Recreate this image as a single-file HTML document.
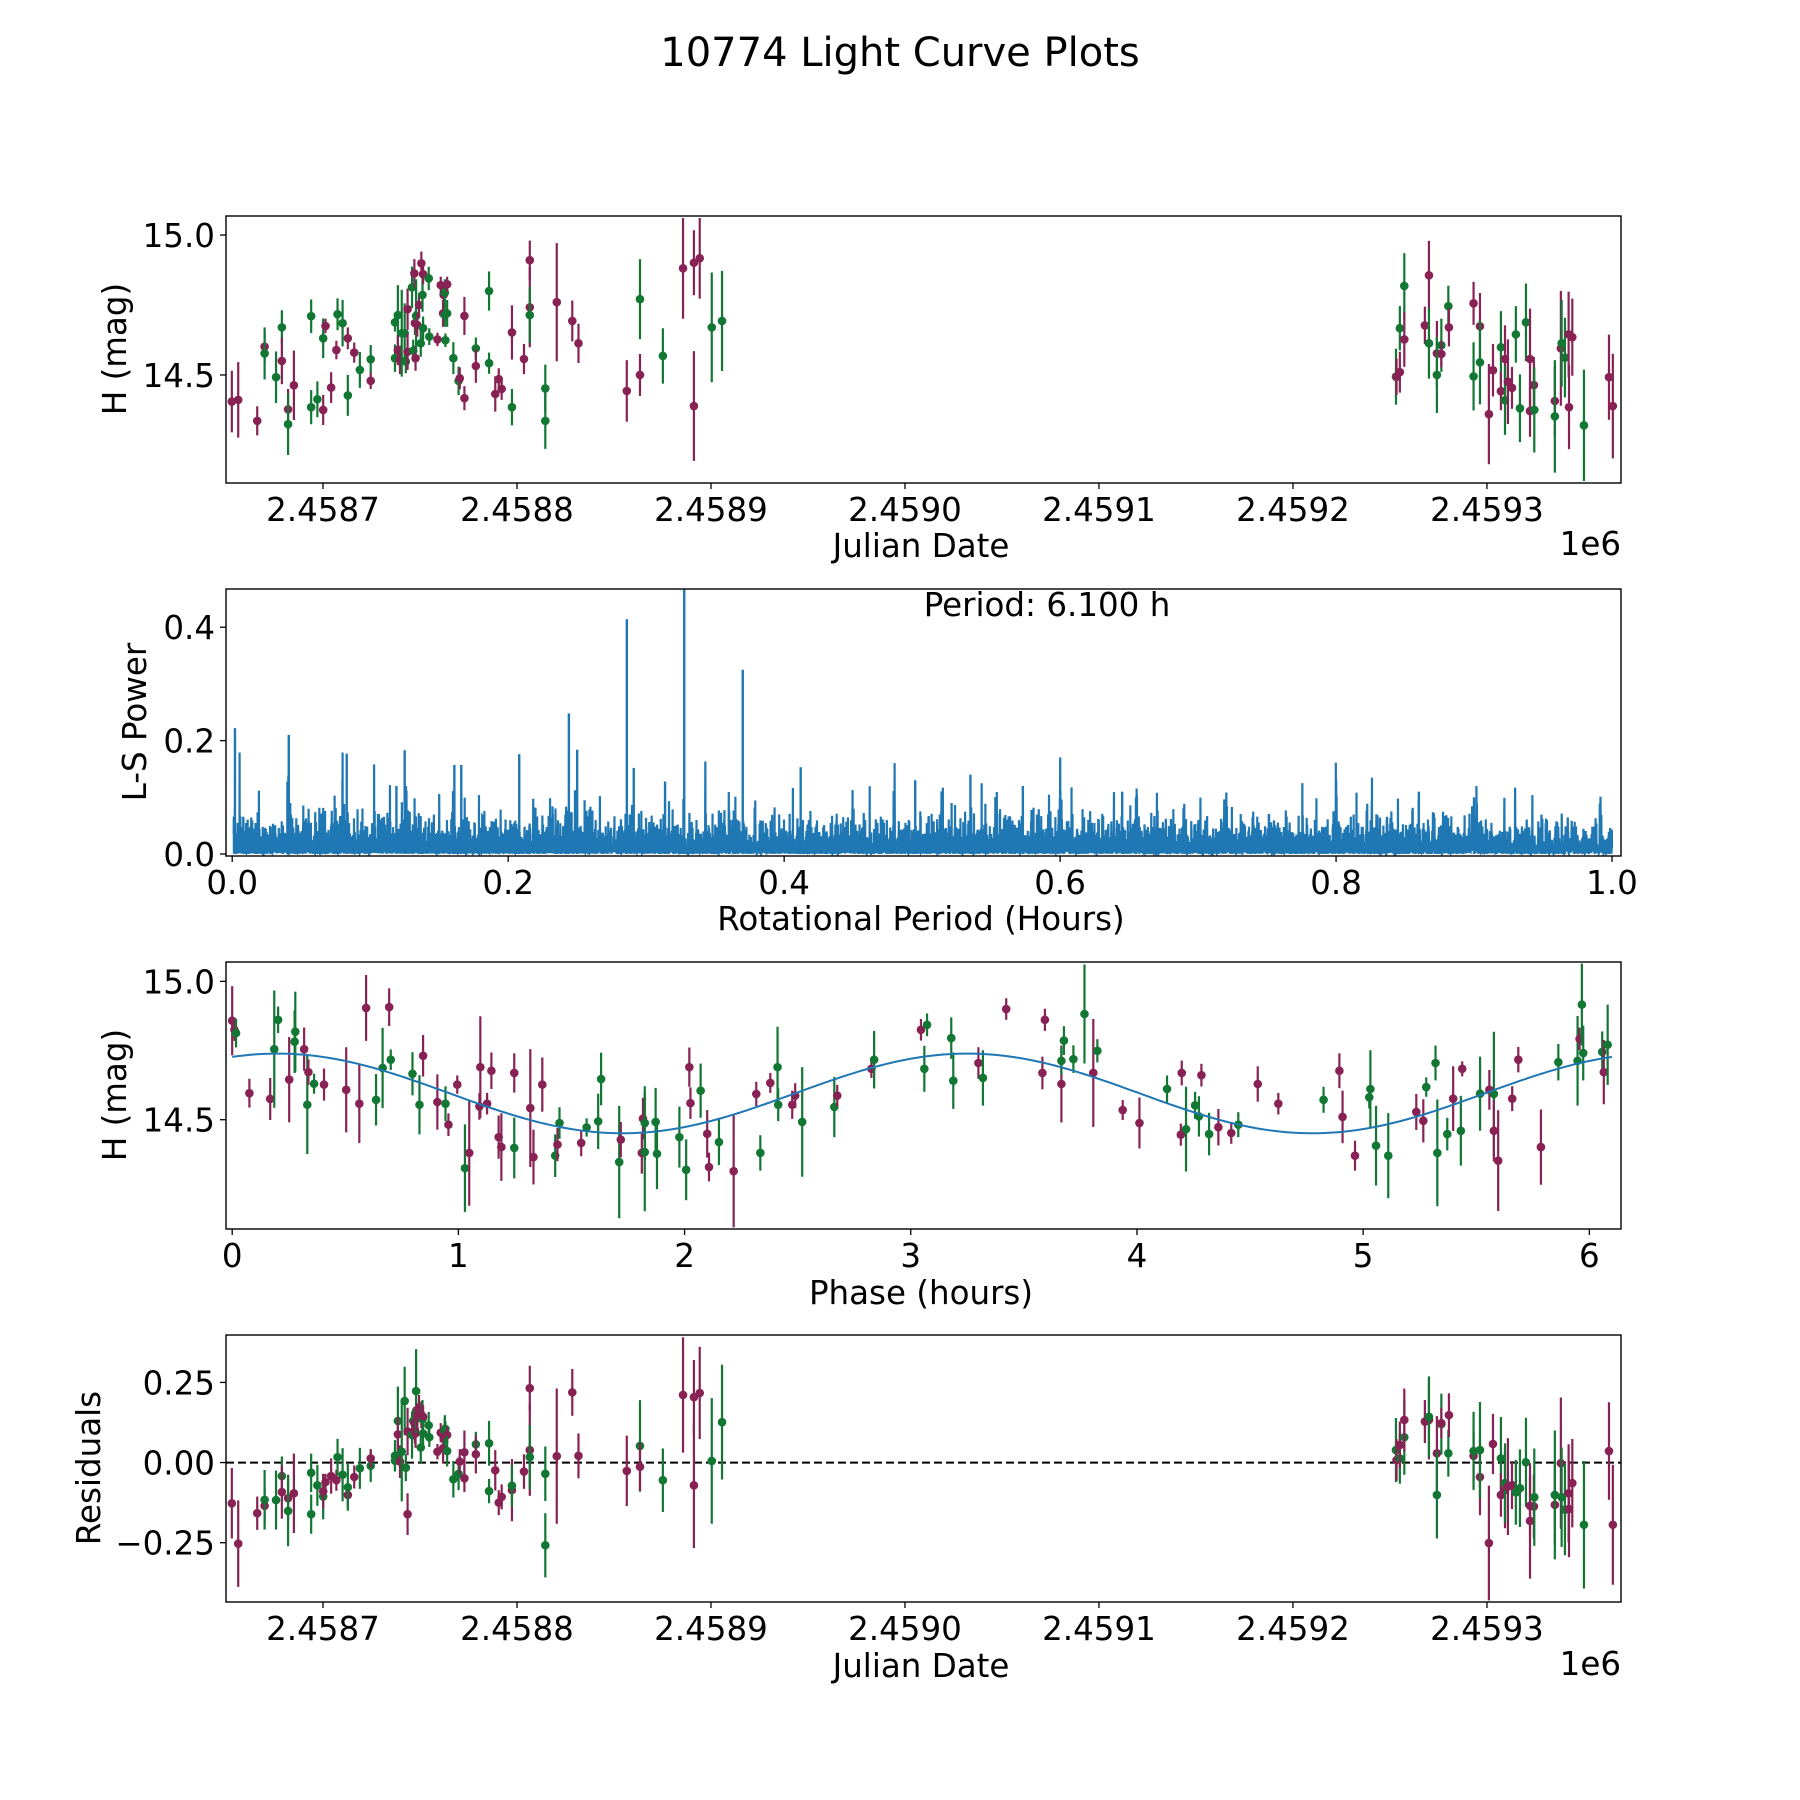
<!DOCTYPE html>
<html><head><meta charset="utf-8">
<style>
html,body{margin:0;padding:0;background:#fff;}
svg{display:block;font-family:"DejaVu Sans","Liberation Sans",sans-serif;}
</style></head>
<body>
<svg id="fig" width="1800" height="1800" viewBox="0 0 1800 1800" xmlns="http://www.w3.org/2000/svg">
<rect width="1800" height="1800" fill="#fff"/>
<text x="900" y="66" font-size="40" text-anchor="middle">10774 Light Curve Plots</text>
</svg>
<script>
// Observation dates: days since JD 2458700, stored in units of 10 days
const dateTens = [-4.70,-4.37,-3.39,-3.01,-3.01,-2.42,-2.12,-2.12,-1.80,-1.80,-1.50,-0.61,-0.61,-0.29,0.01,0.01,0.13,0.42,0.69,0.75,1.01,1.28,1.28,1.61,1.90,2.46,2.46,3.71,3.71,3.86,3.86,3.97,4.06,4.21,4.27,4.36,4.36,4.59,4.65,4.71,4.74,4.77,4.80,4.86,4.95,5.04,5.07,5.13,5.16,5.16,5.45,5.48,5.90,6.07,6.19,6.22,6.28,6.28,6.31,6.40,6.40,6.72,6.99,7.05,7.29,7.29,7.88,7.88,8.56,8.56,8.88,9.06,9.21,9.74,9.74,10.36,10.66,10.66,10.66,11.46,11.46,12.05,12.85,13.17,15.66,16.34,16.34,17.52,18.56,19.12,19.12,19.42,20.04,20.57,
55.31,55.34,55.51,55.51,55.74,55.74,56.80,57.01,57.01,57.42,57.42,57.65,57.65,58.01,58.04,59.31,59.31,59.64,59.64,60.10,60.31,60.72,60.72,60.93,60.93,61.08,61.29,61.49,61.70,62.01,62.22,62.22,62.42,62.44,63.50,63.50,63.81,63.85,64.02,64.21,64.23,64.40,65.00,66.29,66.49];
const mags = [14.405,14.411,14.336,14.601,14.577,14.492,14.670,14.550,14.377,14.324,14.463,14.710,14.385,14.413,14.631,14.375,14.675,14.455,14.589,14.717,14.685,14.631,14.427,14.580,14.518,14.556,14.479,14.688,14.560,14.714,14.589,14.554,14.649,14.649,14.548,14.735,14.583,14.813,14.587,14.863,14.685,14.560,14.711,14.679,14.750,14.613,14.899,14.786,14.860,14.667,14.845,14.637,14.627,14.821,14.720,14.786,14.794,14.714,14.624,14.824,14.720,14.560,14.479,14.488,14.711,14.417,14.595,14.532,14.800,14.542,14.432,14.485,14.450,14.652,14.385,14.557,14.910,14.742,14.714,14.452,14.336,14.760,14.693,14.613,14.443,14.771,14.500,14.568,14.881,14.901,14.389,14.917,14.670,14.693,
14.494,14.494,14.667,14.510,14.818,14.627,14.677,14.856,14.613,14.577,14.500,14.606,14.575,14.746,14.670,14.756,14.495,14.674,14.545,14.360,14.517,14.599,14.442,14.557,14.410,14.476,14.454,14.645,14.381,14.688,14.557,14.371,14.464,14.375,14.407,14.352,14.595,14.613,14.562,14.645,14.385,14.635,14.320,14.492,14.389];
const errs = [0.110,0.135,0.052,0.054,0.093,0.092,0.061,0.083,0.073,0.110,0.124,0.060,0.061,0.064,0.071,0.054,0.026,0.055,0.033,0.057,0.083,0.039,0.073,0.036,0.064,0.051,0.029,0.033,0.049,0.107,0.054,0.051,0.155,0.107,0.042,0.074,0.065,0.074,0.039,0.051,0.042,0.045,0.131,0.042,0.042,0.048,0.042,0.060,0.036,0.042,0.042,0.030,0.024,0.030,0.048,0.042,0.048,0.042,0.024,0.027,0.048,0.057,0.051,0.039,0.068,0.043,0.039,0.060,0.070,0.038,0.063,0.039,0.039,0.097,0.065,0.054,0.070,0.143,0.100,0.085,0.100,0.211,0.073,0.070,0.110,0.143,0.075,0.099,0.180,0.116,0.196,0.144,0.196,0.179,
0.100,0.065,0.079,0.073,0.117,0.098,0.067,0.123,0.126,0.116,0.136,0.095,0.048,0.073,0.068,0.077,0.122,0.119,0.150,0.179,0.094,0.129,0.068,0.120,0.124,0.151,0.075,0.101,0.121,0.139,0.180,0.092,0.100,0.152,0.126,0.201,0.205,0.155,0.142,0.153,0.150,0.138,0.199,0.152,0.187];
const bands = "mmmmgggmmgmggggmmmmggmgmggmgggmmgggmmggmmmgmmgmgmgggmmmmgggmgggmmmgmggmmmmgmmmgggmmmmgmgmmmmggmg".split("");
const bands2 = "gmgmgmmmgmggmgmmgmgmmgmmgmmgggmmmgmgmggmmmgmmm".split("");
// Residuals (mag) for each observation above
const residuals = [-0.127,-0.253,-0.158,-0.135,-0.116,-0.117,-0.042,-0.092,-0.111,-0.151,-0.096,-0.032,-0.161,-0.071,-0.106,-0.090,-0.061,-0.042,-0.055,0.017,-0.038,-0.101,-0.077,-0.045,-0.018,-0.010,0.013,0.006,0.021,0.130,0.088,0.003,0.034,0.192,-0.016,0.097,-0.161,0.086,0.130,0.123,0.102,0.091,0.223,0.143,0.169,0.047,0.149,0.135,0.143,0.091,0.116,0.079,0.034,0.093,0.045,0.076,0.100,0.100,0.105,0.086,0.036,-0.052,-0.035,0.003,0.032,-0.049,0.057,0.026,0.060,-0.089,-0.024,-0.125,-0.107,-0.086,-0.072,-0.028,0.232,0.039,0.017,-0.035,-0.258,0.020,0.219,0.021,-0.026,0.052,-0.013,-0.055,0.211,0.204,-0.071,0.217,0.005,0.126,
0.039,0.008,0.013,0.055,0.079,0.133,0.128,0.133,0.143,0.029,-0.101,0.120,0.123,0.029,0.148,0.021,0.036,-0.045,0.039,-0.251,0.058,0.013,-0.101,-0.085,-0.064,-0.075,-0.070,-0.093,-0.080,0.001,-0.182,-0.135,-0.137,-0.108,-0.132,-0.101,-0.002,-0.108,-0.147,-0.096,-0.145,-0.064,-0.194,0.036,-0.194];
// Folded light curve (panel 3): phase (hours), mag, error, band
const foldPhase = [0.000,0.010,0.017,0.076,0.168,0.186,0.203,0.252,0.276,0.279,0.318,0.332,0.337,0.362,0.406,0.504,0.562,0.592,0.636,0.665,0.694,0.701,0.797,0.828,0.844,0.907,0.943,0.956,0.995,1.029,1.048,1.093,1.097,1.127,1.146,1.178,1.190,1.247,1.247,1.318,1.332,1.371,1.428,1.438,1.447,1.543,1.567,1.618,1.631,1.711,1.718,1.811,1.816,1.824,1.824,1.872,1.878,1.977,2.007,2.021,2.026,2.071,2.100,2.108,2.152,2.217,2.317,2.335,2.379,2.411,2.414,2.476,2.489,2.520,
2.662,2.675,2.826,2.838,3.045,3.072,3.060,3.179,3.188,3.299,3.319,3.422,3.582,3.593,3.666,3.666,3.677,3.719,3.768,3.807,3.825,3.937,4.011,4.133,4.194,4.198,4.217,4.257,4.274,4.285,4.319,4.360,4.417,4.448,
4.534,4.625,4.825,4.895,4.909,4.964,5.027,5.032,5.057,5.111,5.235,5.266,5.279,5.320,5.328,5.372,5.398,5.432,5.438,5.517,5.558,5.578,5.578,5.597,5.659,5.686,5.786,5.863,5.948,5.957,5.967,5.973,6.057,6.064,6.081];
const foldMag = [14.858,14.825,14.813,14.596,14.575,14.755,14.861,14.645,14.782,14.818,14.755,14.554,14.672,14.630,14.627,14.608,14.558,14.904,14.572,14.687,14.907,14.717,14.666,14.554,14.731,14.564,14.558,14.482,14.627,14.325,14.380,14.548,14.690,14.558,14.677,14.437,14.401,14.669,14.398,14.542,14.365,14.627,14.370,14.410,14.488,14.416,14.472,14.494,14.647,14.347,14.428,14.380,14.504,14.488,14.383,14.492,14.377,14.437,14.319,14.690,14.560,14.605,14.449,14.329,14.419,14.314,14.593,14.380,14.633,14.690,14.554,14.554,14.587,14.492,
14.546,14.587,14.684,14.717,14.825,14.843,14.684,14.795,14.641,14.705,14.651,14.900,14.669,14.861,14.629,14.713,14.786,14.719,14.882,14.669,14.749,14.535,14.488,14.611,14.446,14.669,14.466,14.552,14.512,14.661,14.448,14.473,14.452,14.482,
14.629,14.558,14.572,14.677,14.510,14.370,14.581,14.611,14.406,14.370,14.528,14.496,14.618,14.705,14.380,14.448,14.576,14.460,14.684,14.594,14.608,14.593,14.460,14.352,14.576,14.717,14.401,14.708,14.713,14.792,14.916,14.741,14.745,14.672,14.771];
const foldErr = [0.125,0.040,0.052,0.052,0.076,0.212,0.048,0.154,0.113,0.145,0.078,0.178,0.046,0.036,0.058,0.154,0.142,0.119,0.093,0.145,0.068,0.037,0.078,0.107,0.075,0.100,0.063,0.041,0.033,0.158,0.191,0.048,0.184,0.039,0.066,0.078,0.122,0.071,0.110,0.213,0.099,0.098,0.077,0.060,0.057,0.048,0.033,0.100,0.095,0.203,0.064,0.075,0.075,0.133,0.214,0.123,0.128,0.110,0.110,0.071,0.057,0.098,0.086,0.052,0.083,0.203,0.044,0.064,0.036,0.146,0.059,0.051,0.045,0.198,
0.109,0.039,0.033,0.104,0.039,0.041,0.083,0.075,0.102,0.057,0.100,0.039,0.059,0.040,0.139,0.050,0.052,0.050,0.179,0.195,0.042,0.036,0.092,0.049,0.040,0.045,0.153,0.049,0.073,0.041,0.077,0.066,0.039,0.045,
0.064,0.039,0.047,0.063,0.095,0.054,0.040,0.140,0.144,0.154,0.065,0.078,0.035,0.063,0.193,0.059,0.117,0.126,0.027,0.134,0.072,0.225,0.111,0.182,0.045,0.046,0.136,0.066,0.162,0.041,0.148,0.099,0.074,0.116,0.145];
const foldBand = "mmgmmggmggmgmgmmmmggmgggmmgmmgmmmmmmmmgmmmgmgmggggmmmggggggmmgmmgmmgmggmmg".split("").concat(
  "gmmgmggggmgmmmmggggmgmmgmmgggmgmm".split(""),
  "gmmgmmmggggmmggggmgmgmgmmmmmggmgggmg".split(""));
// Period & two-harmonic model (hours / mag)
const periodHours = 6.1;
const modelMean = 14.595, modelAmp = 0.144, modelPeakPhase = 0.2;
// Notable periodogram spikes: period (hours) and L-S power
const peakPeriods = [0.002,0.041,0.083,0.119,0.125,0.161,0.166,0.208,0.244,0.250,0.286,0.291,0.3137,0.3276,0.370,0.412,0.495,0.535,0.573,0.645,0.655,0.86,0.90];
const peakPowers  = [0.222,0.21,0.177,0.12,0.183,0.157,0.157,0.176,0.248,0.184,0.414,0.152,0.128,0.48,0.325,0.153,0.13,0.14,0.12,0.11,0.10,0.11,0.10];

const SVGNS="http://www.w3.org/2000/svg";
const fig=document.getElementById('fig');
function el(tag,attrs,parent){const e=document.createElementNS(SVGNS,tag);for(const k in attrs)e.setAttribute(k,attrs[k]);(parent||fig).appendChild(e);return e;}
function lin(d0,d1,r0,r1){return v=>r0+(v-d0)/(d1-d0)*(r1-r0);}
const C={m:'#882255',g:'#117733'};
const allBands=bands.slice(0,94).concat(bands2.slice(0,45));
while(allBands.length<dateTens.length)allBands.push('m');
const L=226,R=1621;
const jd = dateTens.map(v=>2458700+v*10);
function model(p){return modelMean+modelAmp*Math.cos(4*Math.PI*(p-modelPeakPhase)/periodHours);}
const FS=32.5;

let clipN=0;
function panel(name,top,bot){
  const g=el('g',{});
  
  
  const id='clip'+(clipN++);
  const cp=el('clipPath',{id:id},g);el('rect',{x:L,y:top,width:R-L,height:bot-top},cp);
  const inner=el('g',{'clip-path':'url(#'+id+')'},g);
  return {g,inner,top,bot};
}
function frame(p){const r=el('rect',{x:L,y:p.top,width:R-L,height:p.bot-p.top,fill:'none',stroke:'#000','stroke-width':1.4},p.g);}
function xticks(p,vals,labels,sx,nm){vals.forEach((v,i)=>{const x=sx(v);el('line',{x1:x,x2:x,y1:p.bot,y2:p.bot+6,stroke:'#000','stroke-width':1.3},p.g);const t=el('text',{x:x,y:p.bot+38,'font-size':FS,'text-anchor':'middle'},p.g);t.textContent=labels[i];});}
function yticks(p,vals,labels,sy,nm){vals.forEach((v,i)=>{const y=sy(v);el('line',{x1:L-6,x2:L,y1:y,y2:y,stroke:'#000','stroke-width':1.3},p.g);const t=el('text',{x:L-11,y:y+12,'font-size':FS,'text-anchor':'end'},p.g);t.textContent=labels[i];});}
function label(p,txt,x,y,rot,nm,anchor){const t=el('text',{x:x,y:y,'font-size':FS,'text-anchor':anchor||'middle'},p.g);if(rot)t.setAttribute('transform','rotate(-90 '+x+' '+y+')');t.textContent=txt;}
function points(p,xs,ys,es,bs,sx,sy){xs.forEach((xv,i)=>{const x=sx(xv),y=sy(ys[i]),c=C[bs[i]]||C.m;const e1=sy(ys[i]+es[i]),e2=sy(ys[i]-es[i]);
  const ln=el('line',{x1:x,x2:x,y1:e1,y2:e2,stroke:c,'stroke-width':2.2},p.inner);
  const d=el('circle',{cx:x,cy:y,r:4.3,fill:c},p.inner);});}

const jdTicks=[2458700,2458800,2458900,2459000,2459100,2459200,2459300];
const jdLabels=['2.4587','2.4588','2.4589','2.4590','2.4591','2.4592','2.4593'];
const sxJD=lin(2458650.0,2459369.1,L,R);

// Panel 1
const p1=panel('raw-light-curve-panel',216,483);
const sy1=lin(14.114,15.068,483,216);
points(p1,jd,mags,errs,allBands,sxJD,sy1);
frame(p1);
xticks(p1,jdTicks,jdLabels,sxJD,'x');
yticks(p1,[14.5,15.0],['14.5','15.0'],sy1,'y');
label(p1,'Julian Date',921,557,false,'x-axis-title');
label(p1,'1e6',R,555,false,'x-offset-label','end');
label(p1,'H (mag)',126,349,true,'y-axis-title');

// Panel 2 periodogram
const p2=panel('periodogram-panel',589,856);
const sx2=lin(-0.0045,1.0065,L,R), sy2=lin(-0.0035,0.4674,856,589);
const tH=dateTens.map(v=>v*240);
const mean=mags.reduce((a,b)=>a+b,0)/mags.length;
const yc=mags.map(m=>m-mean);
const yy=yc.reduce((a,b)=>a+b*b,0);
let d='';
const NP=14000;
for(let k=0;k<NP;k++){
  const per=0.001+k*(0.999/(NP-1)), w=2*Math.PI/per;
  let s2=0,c2=0;for(let i=0;i<tH.length;i++){s2+=Math.sin(2*w*tH[i]);c2+=Math.cos(2*w*tH[i]);}
  const tau=Math.atan2(s2,c2)/(2*w);
  let yc1=0,ys1=0,cc=0,ss=0;
  for(let i=0;i<tH.length;i++){const a=w*(tH[i]-tau),c=Math.cos(a),s=Math.sin(a);yc1+=yc[i]*c;ys1+=yc[i]*s;cc+=c*c;ss+=s*s;}
  const pw=(yc1*yc1/cc+ys1*ys1/ss)/yy;
  d+=(k?'L':'M')+sx2(per).toFixed(2)+' '+sy2(pw).toFixed(2);
}
const ls=el('path',{d:d,fill:'none',stroke:'#1f77b4','stroke-width':2.2},p2.inner);


peakPeriods.forEach((pp,i)=>{const l=el('line',{x1:sx2(pp),x2:sx2(pp),y1:sy2(0),y2:sy2(peakPowers[i]),stroke:'#1f77b4','stroke-width':2.4},p2.inner);
  
  });
frame(p2);
xticks(p2,[0,0.2,0.4,0.6,0.8,1.0],['0.0','0.2','0.4','0.6','0.8','1.0'],sx2,'x');
yticks(p2,[0,0.2,0.4],['0.0','0.2','0.4'],sy2,'y');
label(p2,'Rotational Period (Hours)',921,930,false,'x-axis-title');
label(p2,'L-S Power',146,722,true,'y-axis-title');
label(p2,'Period: 6.100 h',1047,616,false,'period-annotation');

// Panel 3 folded
const p3=panel('folded-light-curve-panel',962,1229);
const sx3=lin(-0.0274,6.14,L,R), sy3=lin(14.105,15.07,1229,962);
points(p3,foldPhase,foldMag,foldErr,foldBand,sx3,sy3);
let md='';for(let k=0;k<=300;k++){const ph=k*periodHours/300;md+=(k?'L':'M')+sx3(ph).toFixed(2)+' '+sy3(model(ph)).toFixed(2);}
const mp=el('path',{d:md,fill:'none',stroke:'#1f77b4','stroke-width':2},p3.inner);


frame(p3);
xticks(p3,[0,1,2,3,4,5,6],['0','1','2','3','4','5','6'],sx3,'x');
yticks(p3,[14.5,15.0],['14.5','15.0'],sy3,'y');
label(p3,'Phase (hours)',921,1304,false,'x-axis-title');
label(p3,'H (mag)',126,1095,true,'y-axis-title');

// Panel 4 residuals
const p4=panel('residuals-panel',1335,1602);
const sy4=lin(-0.435,0.398,1602,1335);
const zl=el('line',{x1:L,x2:R,y1:sy4(0),y2:sy4(0),stroke:'#000','stroke-width':2,'stroke-dasharray':'8,4'},p4.inner);


points(p4,jd,residuals,errs,allBands,sxJD,sy4);
frame(p4);
xticks(p4,jdTicks,jdLabels,sxJD,'x');
yticks(p4,[0.25,0,-0.25],['0.25','0.00','\u22120.25'],sy4,'y');
label(p4,'Julian Date',921,1677,false,'x-axis-title');
label(p4,'1e6',R,1675,false,'x-offset-label','end');
label(p4,'Residuals',100,1468,true,'y-axis-title');
</script>
</body></html>
